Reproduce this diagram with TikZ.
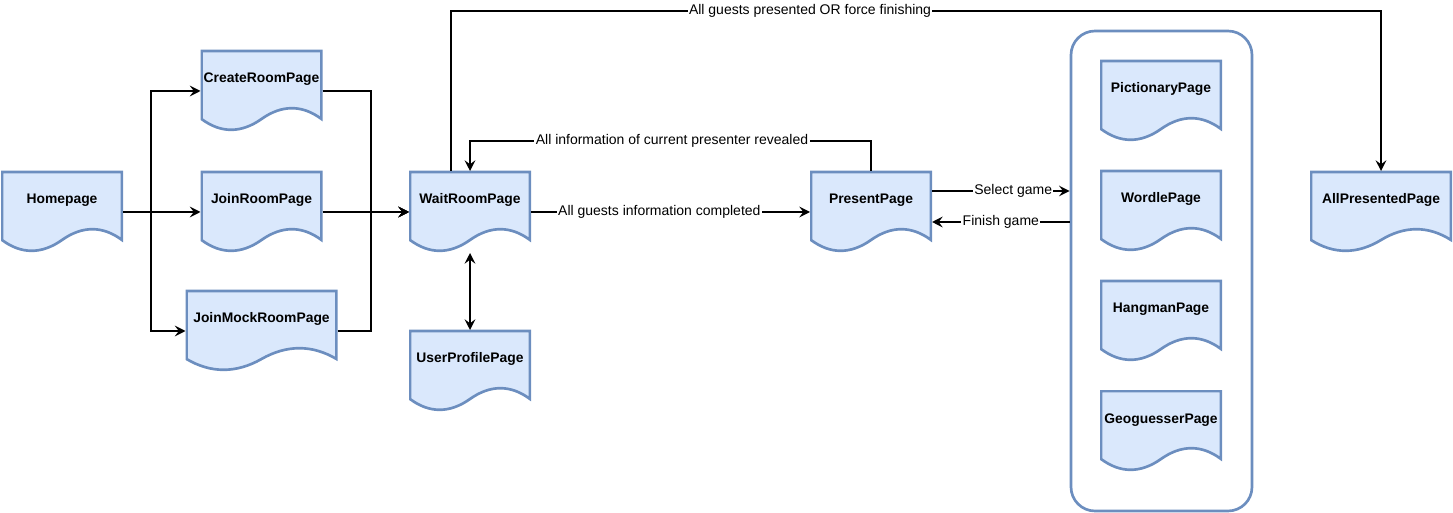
\documentclass[tikz,border=0pt]{standalone}
\usepackage{fontspec}
\setmainfont{Liberation Sans}
\usetikzlibrary{arrows.meta, positioning, calc}
\definecolor{pagefill}{HTML}{DAE8FC}
\definecolor{pageline}{HTML}{6C8EBF}

\begin{document}
\begin{tikzpicture}[x=0.75pt, y=-0.75pt,
  >={Stealth[length=8pt, width=8pt, inset=3pt]},
  docpage/.style={minimum width=#1, minimum height=61.5pt, inner sep=0pt, outer sep=0pt,
    text height=24.75pt, text depth=36.75pt, font=\fontsize{10.4pt}{12pt}\selectfont\bfseries,
    path picture={
      \draw[draw=pageline, fill=pagefill, line width=2pt]
        ([shift={(0.75pt,-0.75pt)}]path picture bounding box.north west)
        -- ([shift={(-0.75pt,-0.75pt)}]path picture bounding box.north east)
        -- ([shift={(-0.75pt,9.75pt)}]path picture bounding box.south east)
        .. controls ($(path picture bounding box.south west)!0.8333!(path picture bounding box.south east)+(0pt,20.55pt)$)
        and ($(path picture bounding box.south west)!0.6667!(path picture bounding box.south east)+(0pt,20.55pt)$)
        .. ($(path picture bounding box.south west)!0.5!(path picture bounding box.south east)+(0pt,9.75pt)$)
        .. controls ($(path picture bounding box.south west)!0.3333!(path picture bounding box.south east)+(0pt,-1.05pt)$)
        and ($(path picture bounding box.south west)!0.1667!(path picture bounding box.south east)+(0pt,-1.05pt)$)
        .. ([shift={(0.75pt,9.75pt)}]path picture bounding box.south west) -- cycle;
    }},
  docpage/.default=91.5pt,
  flow/.style={->, line width=1.6pt},
  lbl/.style={fill=white, inner sep=1pt, font=\fontsize{10.5pt}{12pt}\selectfont},
  gamegroup/.style={draw=pageline, line width=2pt, rounded corners=18pt,
    minimum width=135.75pt, minimum height=360pt}]

  \useasboundingbox (0,0) rectangle (1453,513);

  % Pages
  \node[docpage] (home) at (62,212) {Homepage};
  \node[docpage] (create) at (261.5,91) {CreateRoomPage};
  \node[docpage] (join) at (261.5,212) {JoinRoomPage};
  \node[docpage=114pt] (mock) at (261.5,331) {JoinMockRoomPage};
  \node[docpage] (wait) at (470,212) {WaitRoomPage};
  \node[docpage] (profile) at (470,371) {UserProfilePage};
  \node[docpage] (present) at (871,212) {PresentPage};
  \node[gamegroup] (games) at (1161.5,271) {};
  \node[docpage] (pictionary) at (1161,101) {PictionaryPage};
  \node[docpage] (wordle) at (1161,211) {WordlePage};
  \node[docpage] (hangman) at (1161,321) {HangmanPage};
  \node[docpage] (geo) at (1161,431) {GeoguesserPage};
  \node[docpage=106.5pt] (allpresented) at (1381,212) {AllPresentedPage};

  \coordinate (split) at (151,212);
  \coordinate (merge) at (371,212);
  \coordinate (reveal) at (672,141);
  \coordinate (over) at (810,11);

  % Connectors
  \draw[flow] (home.east) -- (split) |- (create);
  \draw[flow] (home) -- (join);
  \draw[flow] (home.east) -- (split) |- (mock);
  \draw[flow] (create) -| (merge) -- (wait);
  \draw[flow] (join) -- (wait);
  \draw[flow] (mock) -| (merge) -- (wait);
  \draw[flow, <->] (wait) -- (profile);
  \draw[flow] (wait) -- node[lbl, pos=0.46] {All guests information completed} (present);
  \draw[flow] (present.north) |- (reveal) node[lbl] {All information of current presenter revealed} -| (wait.north);
  \draw[flow] ([xshift=-14.25pt]wait.north) |- (over) node[lbl] {All guests presented OR force finishing} -| (allpresented.north);
  \draw[flow] ([yshift=15.75pt]present.east) -- node[lbl, pos=0.59] {Select game} ([yshift=15.75pt]present.east -| games.west);
  \draw[flow] ([yshift=-7.5pt]present.east -| games.west) -- node[lbl] {Finish game} ([yshift=-7.5pt]present.east);
\end{tikzpicture}
\end{document}
